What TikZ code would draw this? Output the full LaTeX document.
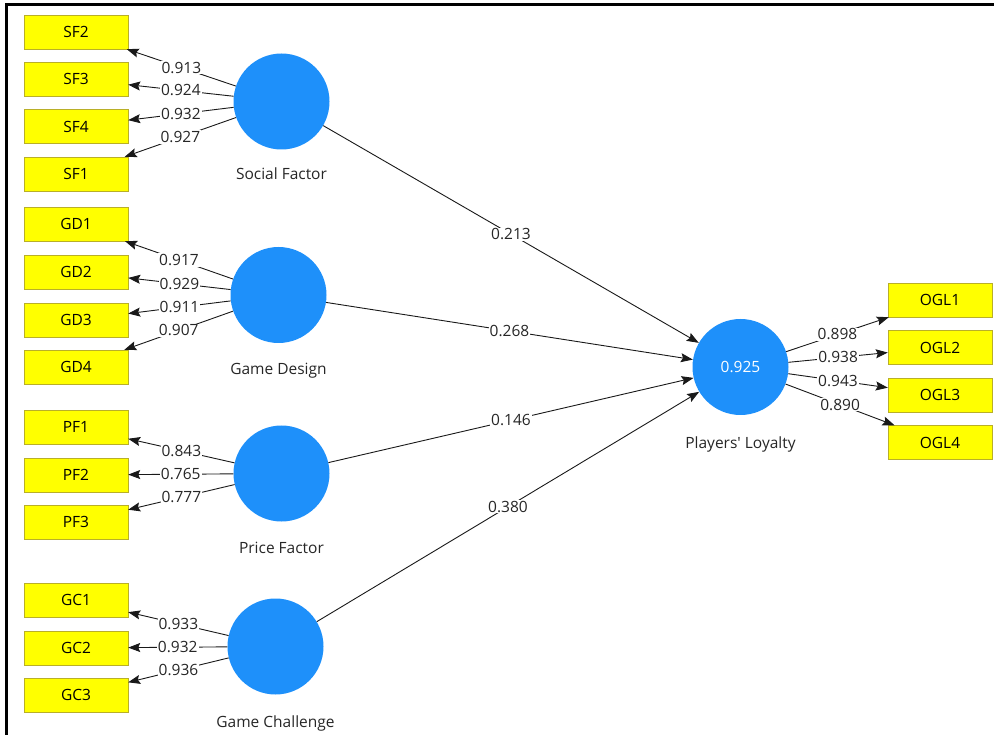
\documentclass[tikz,border=0pt]{standalone}
\usepackage{fontspec}
\setmainfont{Open Sans}
\usetikzlibrary{arrows.meta}
\definecolor{lvblue}{RGB}{30,144,250}
\definecolor{mvyellow}{RGB}{255,255,0}
\definecolor{mvborder}{RGB}{185,175,40}

\begin{document}
\begin{tikzpicture}[x=1pt,y=-1pt,
  every node/.style={font=\fontsize{15.5}{18}\selectfont},
  item/.style={draw=mvborder,fill=mvyellow,minimum width=104pt,minimum height=34pt,inner sep=0pt},
  latent/.style={circle,fill=lvblue,minimum size=96pt,inner sep=0pt},
  coef/.style={fill=white,inner sep=1pt,text=black!85},
  link/.style={draw=black!90,line width=0.9pt,-{Stealth[length=12pt,width=9pt,inset=2pt]}}]
\useasboundingbox (0,0) rectangle (994,735);
\draw[line width=3pt] (6.5,735) -- (6.5,5) -- (994,5);

% constructs
\node[latent] (sf) at (281.5,101.5) {};
\node[latent] (gd) at (278.5,295) {};
\node[latent] (pf) at (281.5,473.5) {};
\node[latent] (gc) at (275.5,646.5) {};
\node[latent,text=white] (pl) at (740.5,367) {0.925};
\node[anchor=base,text=black!85] (sflab) at (281.5,180) {Social Factor};
\node[anchor=base,text=black!85] (gdlab) at (278.5,375) {Game Design};
\node[anchor=base,text=black!85] (pflab) at (281.5,553) {Price Factor};
\node[anchor=base,text=black!85] (gclab) at (275.5,727) {Game Challenge};
\node[anchor=base,text=black!85] (pllab) at (740.5,448) {Players\textquotesingle\ Loyalty};

% indicators
\node[item] (sf2) at (76,32) {SF2};
\node[item] (sf3) at (76,79) {SF3};
\node[item] (sf4) at (76,126.5) {SF4};
\node[item] (sf1) at (76,174) {SF1};
\node[item] (gd1) at (76,224) {GD1};
\node[item] (gd2) at (76,272) {GD2};
\node[item] (gd3) at (76,320) {GD3};
\node[item] (gd4) at (76,367) {GD4};
\node[item] (pf1) at (76,427) {PF1};
\node[item] (pf2) at (76,475) {PF2};
\node[item] (pf3) at (76,522) {PF3};
\node[item] (gc1) at (76,600) {GC1};
\node[item] (gc2) at (76,648) {GC2};
\node[item] (gc3) at (76,695) {GC3};
\node[item] (ogl1) at (940,300) {OGL1};
\node[item] (ogl2) at (940,347.5) {OGL2};
\node[item] (ogl3) at (940,395) {OGL3};
\node[item] (ogl4) at (940,442.5) {OGL4};

% outer loadings
\draw[link] (sf) -- node[coef] (l1) {0.913} (sf2);
\draw[link] (sf) -- node[coef] (l2) {0.924} (sf3);
\draw[link] (sf) -- node[coef] (l3) {0.932} (sf4);
\draw[link] (sf) -- node[coef] (l4) {0.927} (sf1);
\draw[link] (gd) -- node[coef] (l5) {0.917} (gd1);
\draw[link] (gd) -- node[coef] (l6) {0.929} (gd2);
\draw[link] (gd) -- node[coef] (l7) {0.911} (gd3);
\draw[link] (gd) -- node[coef] (l8) {0.907} (gd4);
\draw[link] (pf) -- node[coef] (l9) {0.843} (pf1);
\draw[link] (pf) -- node[coef] (l10) {0.765} (pf2);
\draw[link] (pf) -- node[coef] (l11) {0.777} (pf3);
\draw[link] (gc) -- node[coef] (l12) {0.933} (gc1);
\draw[link] (gc) -- node[coef] (l13) {0.932} (gc2);
\draw[link] (gc) -- node[coef] (l14) {0.936} (gc3);
\draw[link] (pl) -- node[coef] (l15) {0.898} (ogl1);
\draw[link] (pl) -- node[coef] (l16) {0.938} (ogl2);
\draw[link] (pl) -- node[coef] (l17) {0.943} (ogl3);
\draw[link] (pl) -- node[coef] (l18) {0.890} (ogl4);

% path coefficients
\draw[link] (sf) -- node[coef] (b1) {0.213} (pl);
\draw[link] (gd) -- node[coef] (b2) {0.268} (pl);
\draw[link] (pf) -- node[coef] (b3) {0.146} (pl);
\draw[link] (gc) -- node[coef] (b4) {0.380} (pl);
\end{tikzpicture}
\end{document}
